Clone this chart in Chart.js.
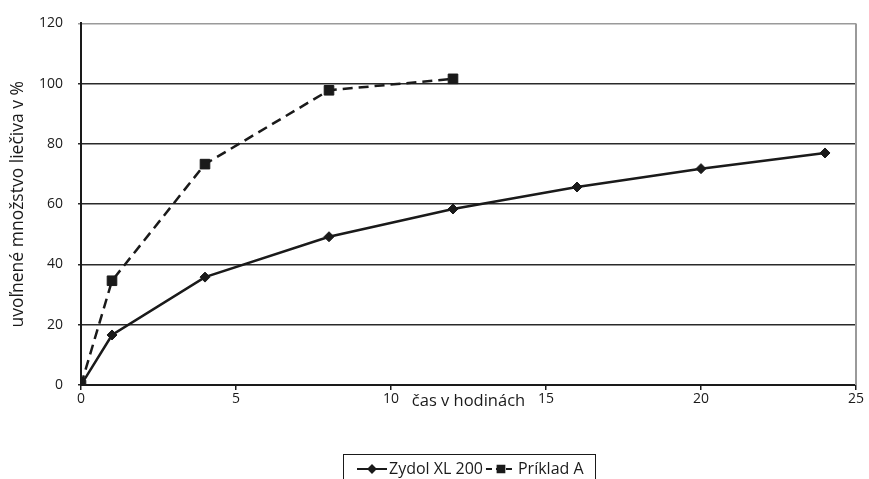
<!DOCTYPE html>
<html>
<head>
<meta charset="utf-8">
<script src="https://cdn.jsdelivr.net/npm/chart.js@4.4.1/dist/chart.umd.min.js"></script>
<style>
  html, body { margin: 0; padding: 0; background: #fff; }
  #wrap { width: 869px; height: 479px; position: relative; }
</style>
</head>
<body>
<div id="wrap"><canvas id="releaseChart"></canvas></div>
<script>
// hours of sampling and released drug (%)
const zydolHours = [0, 1, 4, 8, 12, 16, 20, 24];
const zydolValues = [0, 16.6, 35.8, 49.2, 58.4, 65.7, 71.8, 77.0];
const prikladHours = [0, 1, 4, 8, 12];
const prikladValues = [0, 34.6, 73.3, 97.8, 101.6];

const seriesNames = ['Zydol XL 200', 'Príklad A'];
const xTicks = [0, 5, 10, 15, 20, 25];
const yTicks = [0, 20, 40, 60, 80, 100, 120];

const yTitle = 'uvoľnené množstvo liečiva v %';
const xTitle = 'čas v hodinách';

const FONT = "'Open Sans', 'Noto Sans', sans-serif";
const INK = '#1a1a1a';

function toPoints(xs, ys) {
  return xs.map((x, i) => ({ x: x, y: ys[i] }));
}

// right border of the plot in grey, like the spreadsheet frame
const frameRight = {
  id: 'frameRight',
  beforeDatasetsDraw(chart) {
    const { ctx, chartArea } = chart;
    ctx.save();
    ctx.strokeStyle = '#9a9a9a';
    ctx.lineWidth = 2;
    ctx.beginPath();
    ctx.moveTo(chartArea.right, chartArea.top);
    ctx.lineTo(chartArea.right, chartArea.bottom);
    ctx.stroke();
    ctx.restore();
  }
};

// boxed legend with line + marker samples, cut by the bottom edge
const boxLegend = {
  id: 'boxLegend',
  afterDraw(chart) {
    const ctx = chart.ctx;
    const boxLeft = 343, boxTop = 454, boxRight = 595;
    const midY = 469;
    ctx.save();
    ctx.strokeStyle = INK;
    ctx.lineWidth = 1;
    ctx.strokeRect(boxLeft + 0.5, boxTop + 0.5, boxRight - boxLeft, 60);

    ctx.font = '16px ' + FONT;
    ctx.fillStyle = INK;
    ctx.textBaseline = 'middle';
    let x = boxLeft + 14;
    chart.data.datasets.forEach((ds, i) => {
      const segW = 30;
      ctx.strokeStyle = INK;
      ctx.lineWidth = 2;
      ctx.setLineDash(ds.borderDash ? [6, 4] : []);
      ctx.beginPath();
      ctx.moveTo(x, midY);
      ctx.lineTo(x + segW, midY);
      ctx.stroke();
      ctx.setLineDash([]);
      Chart.helpers.drawPoint(ctx, {
        pointStyle: ds.pointStyle,
        radius: ds.pointRadius * 0.7,
        borderWidth: 1
      }, x + segW / 2, midY);
      ctx.fill();
      x += segW + 2;
      ctx.fillText(ds.label, x, midY);
      x += ctx.measureText(ds.label).width + 3;
    });
    ctx.restore();
  }
};

const ctx = document.getElementById('releaseChart').getContext('2d');
const releaseChart = new Chart(ctx, {
  type: 'line',
  data: {
    datasets: [
      {
        label: seriesNames[0],
        data: toPoints(zydolHours, zydolValues),
        borderColor: INK,
        backgroundColor: INK,
        borderWidth: 2.5,
        pointStyle: 'rectRot',
        pointRadius: 5,
        pointBorderWidth: 1,
        tension: 0
      },
      {
        label: seriesNames[1],
        data: toPoints(prikladHours, prikladValues),
        borderColor: INK,
        backgroundColor: INK,
        borderWidth: 2.5,
        borderDash: [10, 6],
        pointStyle: 'rect',
        pointRadius: 6.8,
        pointBorderWidth: 1,
        tension: 0
      }
    ]
  },
  options: {
    responsive: true,
    maintainAspectRatio: false,
    animation: false,
    layout: { padding: { left: 0, top: 22, right: 13, bottom: 0 } },
    plugins: {
      legend: { display: false },
      tooltip: { enabled: false }
    },
    scales: {
      x: {
        type: 'linear',
        min: xTicks[0],
        max: xTicks[xTicks.length - 1],
        afterBuildTicks(scale) { scale.ticks = xTicks.map(v => ({ value: v })); },
        afterFit(scale) { scale.height = 94; },
        border: { display: true, color: INK, width: 2 },
        grid: { drawOnChartArea: false, drawTicks: true, tickLength: 5, color: INK, lineWidth: 1.5 },
        ticks: { color: INK, padding: 1, font: { family: FONT, size: 14 } },
        title: {
          display: true,
          text: xTitle,
          color: INK,
          font: { family: FONT, size: 16.5 },
          padding: { top: 0, bottom: 68 }
        }
      },
      y: {
        min: yTicks[0],
        max: yTicks[yTicks.length - 1],
        afterBuildTicks(scale) { scale.ticks = yTicks.map(v => ({ value: v })); },
        afterFit(scale) { scale.width = 81; },
        border: { display: true, color: INK, width: 2 },
        grid: {
          drawTicks: true,
          tickLength: 3,
          lineWidth: 1.6,
          color: c => (c.tick && c.tick.value === 120 ? '#9a9a9a' : '#2a2a2a')
        },
        ticks: { color: INK, padding: 15, font: { family: FONT, size: 14 } },
        title: {
          display: true,
          text: yTitle,
          color: INK,
          font: { family: FONT, size: 17.5 },
          padding: { top: 8, bottom: 0 }
        }
      }
    }
  },
  plugins: [frameRight, boxLegend]
});
</script>
</body>
</html>
